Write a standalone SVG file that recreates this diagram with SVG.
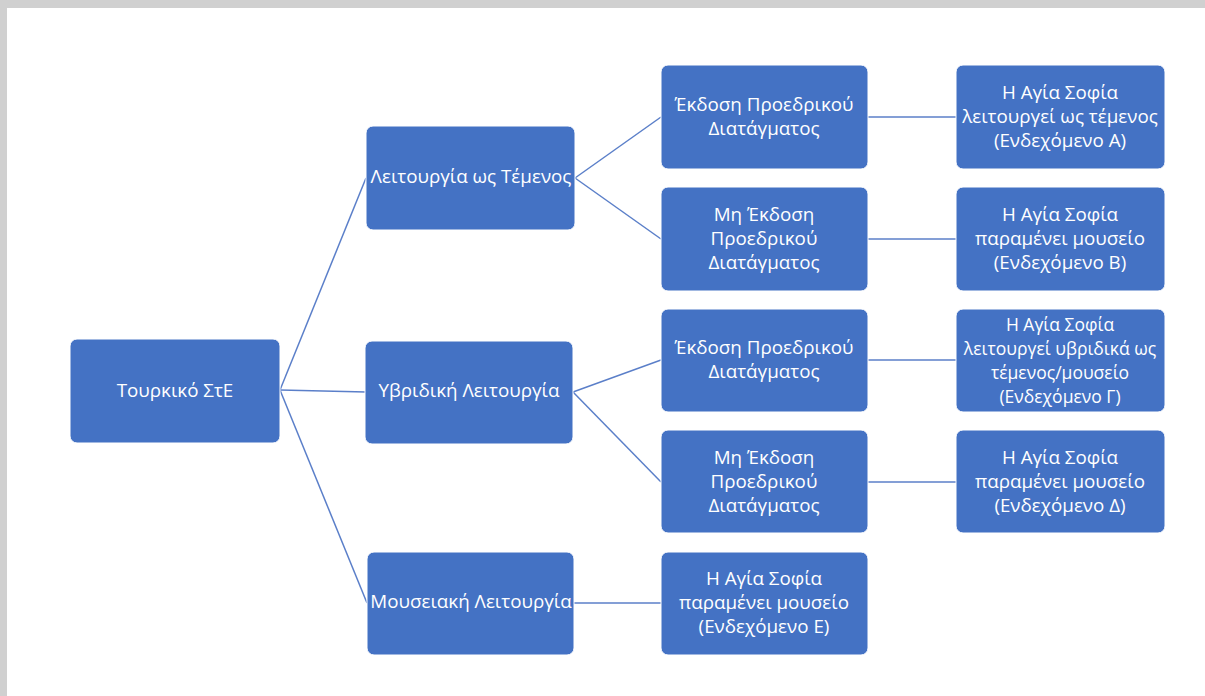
<svg xmlns="http://www.w3.org/2000/svg" width="1205" height="696" viewBox="0 0 1205 696">
<style>
.n{fill:#4472c4;stroke:#ffffff;stroke-width:1}
.t{fill:#ffffff;font-family:"Open Sans","Noto Sans",sans-serif;font-size:18.8px;text-anchor:middle;dominant-baseline:central}
.s{font-size:17.5px}
.c{stroke:#5b7fc9;stroke-width:1.5;fill:none}
</style>
<rect x="0" y="0" width="1205" height="696" fill="#ffffff"/>
<rect x="0" y="0" width="1205" height="8" fill="#d0d0d0"/>
<rect x="0" y="0" width="7" height="696" fill="#d0d0d0"/>
<g id="connectors">
<line class="c" x1="280" y1="390" x2="366" y2="178"/>
<line class="c" x1="280" y1="390" x2="366" y2="392"/>
<line class="c" x1="280" y1="390" x2="367" y2="603"/>
<line class="c" x1="575" y1="178" x2="661" y2="117"/>
<line class="c" x1="575" y1="178" x2="661" y2="239"/>
<line class="c" x1="573" y1="392" x2="661" y2="360"/>
<line class="c" x1="573" y1="392" x2="661" y2="482"/>
<line class="c" x1="574" y1="603" x2="661" y2="603"/>
<line class="c" x1="868" y1="117" x2="956" y2="117"/>
<line class="c" x1="868" y1="239" x2="956" y2="239"/>
<line class="c" x1="868" y1="360" x2="956" y2="360"/>
<line class="c" x1="868" y1="482" x2="956" y2="482"/>
</g>
<g id="root"><rect class="n" x="70" y="339" width="210" height="104" rx="7"/><text class="t" x="175" y="390">Τουρκικό ΣτΕ</text></g>
<g id="temenos"><rect class="n" x="366" y="126" width="209" height="104" rx="7"/><text class="t" x="471" y="176">Λειτουργία ως Τέμενος</text></g>
<g id="hybrid"><rect class="n" x="365" y="341" width="208" height="103" rx="7"/><text class="t" x="469" y="390">Υβριδική Λειτουργία</text></g>
<g id="museum"><rect class="n" x="367" y="552" width="207" height="103" rx="7"/><text class="t" x="471" y="601">Μουσειακή Λειτουργία</text></g>
<g id="ekdosi1"><rect class="n" x="661" y="65" width="207" height="104" rx="7"/><text class="t" x="764" y="104">Έκδοση Προεδρικού</text><text class="t" x="764" y="128">Διατάγματος</text></g>
<g id="miekdosi1"><rect class="n" x="661" y="187" width="207" height="104" rx="7"/><text class="t" x="764" y="214">Μη Έκδοση</text><text class="t" x="764" y="238">Προεδρικού</text><text class="t" x="764" y="262">Διατάγματος</text></g>
<g id="ekdosi2"><rect class="n" x="661" y="309" width="207" height="103" rx="7"/><text class="t" x="764" y="347">Έκδοση Προεδρικού</text><text class="t" x="764" y="371">Διατάγματος</text></g>
<g id="miekdosi2"><rect class="n" x="661" y="430" width="207" height="103" rx="7"/><text class="t" x="764" y="457">Μη Έκδοση</text><text class="t" x="764" y="481">Προεδρικού</text><text class="t" x="764" y="505">Διατάγματος</text></g>
<g id="endE"><rect class="n" x="661" y="552" width="207" height="103" rx="7"/><text class="t" x="764" y="578">Η Αγία Σοφία</text><text class="t" x="764" y="602">παραμένει μουσείο</text><text class="t" x="764" y="626">(Ενδεχόμενο Ε)</text></g>
<g id="endA"><rect class="n" x="956" y="65" width="209" height="104" rx="7"/><text class="t" x="1060" y="92">Η Αγία Σοφία</text><text class="t" x="1060" y="116">λειτουργεί ως τέμενος</text><text class="t" x="1060" y="140">(Ενδεχόμενο Α)</text></g>
<g id="endB"><rect class="n" x="956" y="187" width="209" height="104" rx="7"/><text class="t" x="1060" y="214">Η Αγία Σοφία</text><text class="t" x="1060" y="238">παραμένει μουσείο</text><text class="t" x="1060" y="262">(Ενδεχόμενο Β)</text></g>
<g id="endC"><rect class="n" x="956" y="309" width="209" height="103" rx="7"/><text class="t s" x="1060" y="324">Η Αγία Σοφία</text><text class="t s" x="1060" y="348">λειτουργεί υβριδικά ως</text><text class="t s" x="1060" y="372">τέμενος/μουσείο</text><text class="t s" x="1060" y="396">(Ενδεχόμενο Γ)</text></g>
<g id="endD"><rect class="n" x="956" y="430" width="209" height="103" rx="7"/><text class="t" x="1060" y="457">Η Αγία Σοφία</text><text class="t" x="1060" y="481">παραμένει μουσείο</text><text class="t" x="1060" y="505">(Ενδεχόμενο Δ)</text></g>
</svg>
